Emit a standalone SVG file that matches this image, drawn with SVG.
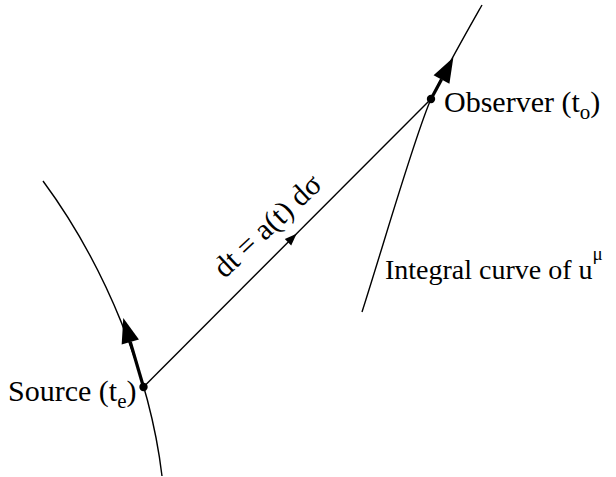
<svg xmlns="http://www.w3.org/2000/svg" width="616" height="477" viewBox="0 0 616 477">
  <style>
    .line { fill: none; stroke: #000; stroke-width: 1.4; }
    .thick { fill: none; stroke: #000; stroke-width: 3.2; }
    .dot { fill: #000; }
    .lbl { font-family: "Liberation Serif", "Times New Roman", serif; font-size: 30px; fill: #000; }
    .sub { font-size: 21px; }
    .lbl.small { font-size: 28px; }
    .sup { font-size: 19px; }
  </style>
  <defs>
    <marker id="bigArrow" markerUnits="userSpaceOnUse" viewBox="0 -10 27 20" markerWidth="27" markerHeight="20" refX="0" refY="0" orient="auto" overflow="visible">
      <path d="M0,-9 L25,0 L0,9 Z" fill="#000"/>
    </marker>
  </defs>

  <g id="connectors">
    <path id="source-worldline" class="line" d="M43,181 C105,265 150,375 162,476"/>
    <path id="observer-worldline" class="line" d="M362,312 C385,240 415,135 431,99 C445,70 465,35 482,5"/>
    <path id="light-ray" class="line" d="M143.5,387 L431,99"/>
    <polygon points="296.6,233.7 291.2,245.5 284.8,239.1" fill="#000"/>
    <path id="source-velocity" class="thick" d="M143.5,387 L130.3,342" marker-end="url(#bigArrow)"/>
    <path id="observer-velocity" class="thick" d="M431,99 L441.5,79.5" marker-end="url(#bigArrow)"/>
  </g>

  <g id="source">
    <circle class="dot" cx="143.5" cy="387" r="4.2"/>
    <text class="lbl" x="8" y="401">Source (t<tspan class="sub" dy="7">e</tspan><tspan dy="-7">)</tspan></text>
  </g>

  <g id="observer">
    <circle class="dot" cx="431" cy="99" r="4.2"/>
    <text class="lbl" x="444" y="112">Observer (t<tspan class="sub" dy="7">o</tspan><tspan dy="-7">)</tspan></text>
  </g>

  <g id="ray-label">
    <text class="lbl" x="274" y="233" text-anchor="middle" transform="rotate(-43 274 233)">dt = a(t) dσ</text>
  </g>

  <g id="integral-curve-label">
    <text class="lbl small" x="385" y="279">Integral curve of u<tspan class="sup" dy="-19">μ</tspan></text>
  </g>
</svg>
